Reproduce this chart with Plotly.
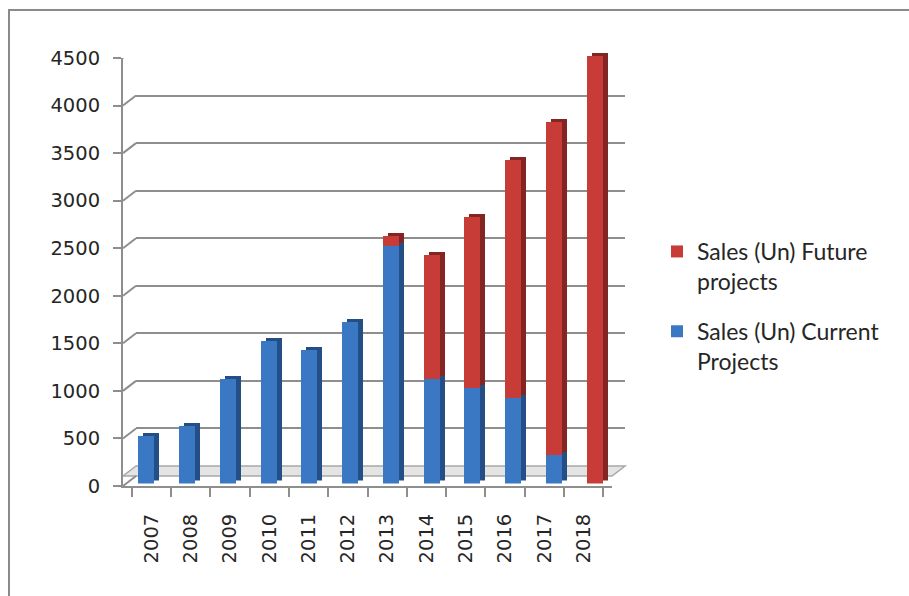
import plotly.graph_objects as go

# Yearly unit sales, split into current and future projects
years = ["2007", "2008", "2009", "2010", "2011", "2012",
         "2013", "2014", "2015", "2016", "2017", "2018"]
current_projects = [500, 600, 1100, 1500, 1400, 1700, 2500, 1100, 1000, 900, 300, 0]
future_projects = [0, 0, 0, 0, 0, 0, 100, 1300, 1800, 2500, 3500, 4500]

y_ticks = [0, 500, 1000, 1500, 2000, 2500, 3000, 3500, 4000, 4500]
y_max = 4500

# Page geometry (pixels)
W, H = 909, 596
L, T = 123, 48
PW, PH = 502, 438          # plotting area incl. depth
FW, FH = 489, 428          # front plane size
BACK = (13, 10)            # back wall offset
BARS = (3, 2.5)            # bar front faces
SIDE = (8, 5.5)            # bar side/top faces

BLUE, BLUE_D = "#3b78c4", "#244e86"
RED, RED_D = "#c83c38", "#832523"
GRID = "#8e8e8e"
TEXT = "#262626"


def dom(off):
    dx, dy = off
    return [dx / PW, (dx + FW) / PW], [dy / PH, (dy + FH) / PH]


fig = go.Figure()

bar_w = 0.39
for (xa, ya), colors, show in (
    (("x2", "y2"), (BLUE_D, RED_D), False),
    (("x3", "y3"), (BLUE, RED), True),
):
    fig.add_trace(go.Bar(x=years, y=current_projects, name="Sales (Un) Current<br>Projects",
                         marker=dict(color=colors[0], line=dict(width=0)), width=bar_w,
                         xaxis=xa, yaxis=ya, showlegend=show, legendgroup="cur",
                         legendrank=2))
    fig.add_trace(go.Bar(x=years, y=future_projects, name="Sales (Un) Future<br>projects",
                         marker=dict(color=colors[1], line=dict(width=0)), width=bar_w,
                         xaxis=xa, yaxis=ya, showlegend=show, legendgroup="fut",
                         legendrank=1))

# empty traces keep the back-wall and axis subplots alive
fig.add_trace(go.Scatter(x=years, y=[None] * len(years), xaxis="x", yaxis="y",
                         showlegend=False, hoverinfo="skip"))
fig.add_trace(go.Scatter(x=years, y=[None] * len(years), xaxis="x4", yaxis="y4",
                         showlegend=False, hoverinfo="skip"))

hidden = dict(visible=False, fixedrange=True)
xb, yb = dom(BACK)
xs, ys = dom(SIDE)
xf, yf = dom(BARS)
x0d, y0d = dom((0, 0))

fig.update_layout(
    width=W, height=H,
    margin=dict(l=L, r=W - L - PW, t=T, b=H - T - PH),
    paper_bgcolor="white", plot_bgcolor="rgba(0,0,0,0)",
    barmode="stack", bargap=0.6, showlegend=True,
    xaxis=dict(domain=xb, type="category", showgrid=False, showticklabels=False,
               ticks="", showline=False, zeroline=False),
    yaxis=dict(domain=yb, range=[0, y_max], tickvals=y_ticks, showgrid=True,
               gridcolor=GRID, gridwidth=2, showticklabels=False, ticks="",
               showline=False, zeroline=False),
    xaxis2=dict(domain=xs, type="category", anchor="y2", **hidden),
    yaxis2=dict(domain=ys, range=[0, y_max], anchor="x2", **hidden),
    xaxis3=dict(domain=xf, type="category", anchor="y3", **hidden),
    yaxis3=dict(domain=yf, range=[0, y_max], anchor="x3", **hidden),
    xaxis4=dict(domain=x0d, type="category", anchor="y4", showgrid=False,
                showline=True, linecolor=GRID, linewidth=2,
                ticks="outside", ticklen=9, tickwidth=2, tickcolor=GRID,
                tickson="boundaries", tickangle=-90, ticklabelstandoff=18,
                tickfont=dict(family="DejaVu Sans", size=19.5, color=TEXT)),
    yaxis4=dict(domain=y0d, range=[0, y_max], tickvals=y_ticks, anchor="x4",
                showgrid=False, zeroline=False, showline=True, linecolor=GRID,
                linewidth=2, ticks="outside", ticklen=8, tickwidth=2, tickcolor=GRID,
                ticklabelstandoff=9,
                tickfont=dict(family="DejaVu Sans", size=19.5, color=TEXT)),
    legend=dict(x=(657 - L) / PW, y=(T + PH - 230) / PH, xanchor="left", yanchor="top",
                traceorder="grouped", tracegroupgap=17, valign="top",
                itemwidth=30, bgcolor="rgba(0,0,0,0)",
                font=dict(family="Lato", size=23, color=TEXT)),
)


def pp(xp, yp):
    return (xp - L) / PW, (T + PH - yp) / PH


shapes = []
# chart frame
fx, fy = pp(9, 10)
shapes.append(dict(type="rect", xref="paper", yref="paper", x0=fx, y0=-1, x1=3, y1=fy,
                   line=dict(color="#8a8a8a", width=2), fillcolor="rgba(0,0,0,0)",
                   layer="below"))
# floor of the chart
c = [pp(L, T + FH), pp(L + FW, T + FH), pp(L + FW + BACK[0], T + FH - BACK[1]),
     pp(L + BACK[0], T + FH - BACK[1])]
path = "M{},{} L{},{} L{},{} L{},{} Z".format(*[v for p in c for v in p])
shapes.append(dict(type="path", xref="paper", yref="paper", path=path,
                   fillcolor="#e4e4e4", line=dict(color="#a8a8a8", width=1.5),
                   layer="between"))
# diagonal links from the value axis to the back-wall gridlines
for v in y_ticks:
    shapes.append(dict(type="line", xref="paper", yref="y4",
                       xsizemode="pixel", xanchor=0, x0=0, x1=BACK[0],
                       ysizemode="pixel", yanchor=v, y0=0, y1=BACK[1],
                       line=dict(color=GRID, width=2)))
fig.update_layout(shapes=shapes)

fig.write_html("out.html")
